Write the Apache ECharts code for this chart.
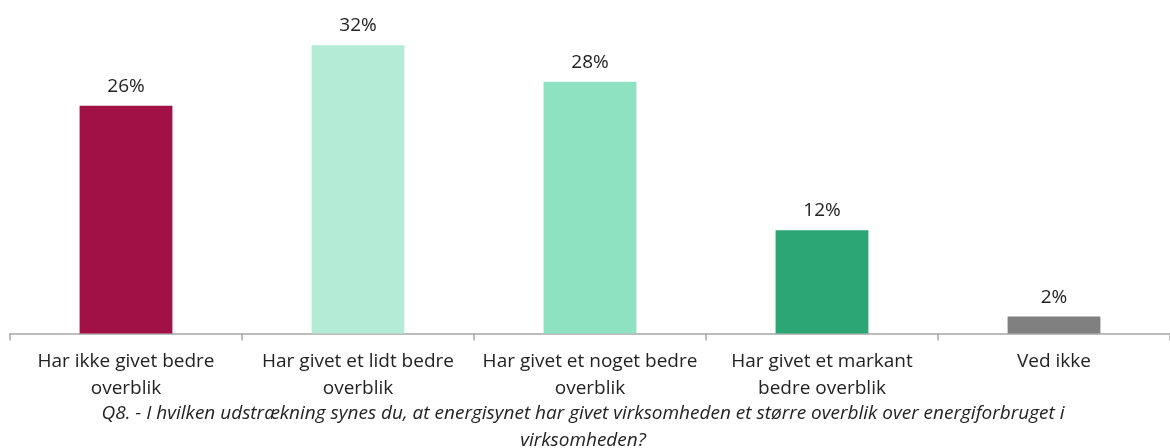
<!DOCTYPE html>
<html>
<head>
<meta charset="utf-8">
<script src="https://cdn.jsdelivr.net/npm/echarts@6/dist/echarts.min.js"></script>
<style>
    html, body { margin: 0; padding: 0; background: #fff; }
    #main { width: 1170px; height: 448px; }
</style>
</head>
<body>
<div id="main"></div>
<script>
// 数据
var categories = ['Har ikke givet bedre\noverblik', 'Har givet et lidt bedre\noverblik', 'Har givet et noget bedre\noverblik', 'Har givet et markant\nbedre overblik', 'Ved ikke'];
var values = [25.6, 32.4, 28.3, 11.6, 1.9];
var colors = ['#a11145', '#b4ebd6', '#8ee1c1', '#2ba674', '#808080'];
var question = 'Q8. - I hvilken udstrækning synes du, at energisynet har givet virksomheden et større overblik over energiforbruget i\nvirksomheden?';

(function() {
    var myChart = echarts.init(document.querySelector('#main'));
    var option = {
        animation: false,
        title: {
            text: question,
            left: 583,
            top: 400,
            padding: 0,
            textAlign: 'center',
            textStyle: {
                fontFamily: 'Open Sans',
                fontStyle: 'italic',
                fontWeight: 'normal',
                fontSize: 19,
                lineHeight: 27,
                color: '#222'
            }
        },
        grid: {
            left: 10,
            right: -8,
            top: 0,
            bottom: 114.5
        },
        xAxis: {
            type: 'category',
            data: categories,
            axisLine: {
                lineStyle: { color: '#a6a6a6', width: 1.5 }
            },
            axisTick: {
                show: true,
                length: 7,
                lineStyle: { color: '#a6a6a6', width: 1.5 }
            },
            axisLabel: {
                interval: 0,
                margin: 15,
                fontFamily: 'Open Sans',
                fontSize: 19,
                lineHeight: 27,
                color: '#222'
            }
        },
        yAxis: {
            type: 'value',
            min: 0,
            max: 37.5,
            show: false,
            splitLine: { show: false }
        },
        series: [{
            type: 'bar',
            barWidth: '40%',
            data: values.map(function(v, i) {
                return { value: v, itemStyle: { color: colors[i] } };
            }),
            label: {
                show: true,
                position: 'top',
                distance: 10,
                fontFamily: 'Open Sans',
                fontSize: 19,
                color: '#222',
                formatter: function(p) {
                    return Math.round(p.value) + '%';
                }
            }
        }]
    };
    myChart.setOption(option);
    window.addEventListener('resize', function() {
        myChart.resize();
    });
})();
</script>
</body>
</html>
